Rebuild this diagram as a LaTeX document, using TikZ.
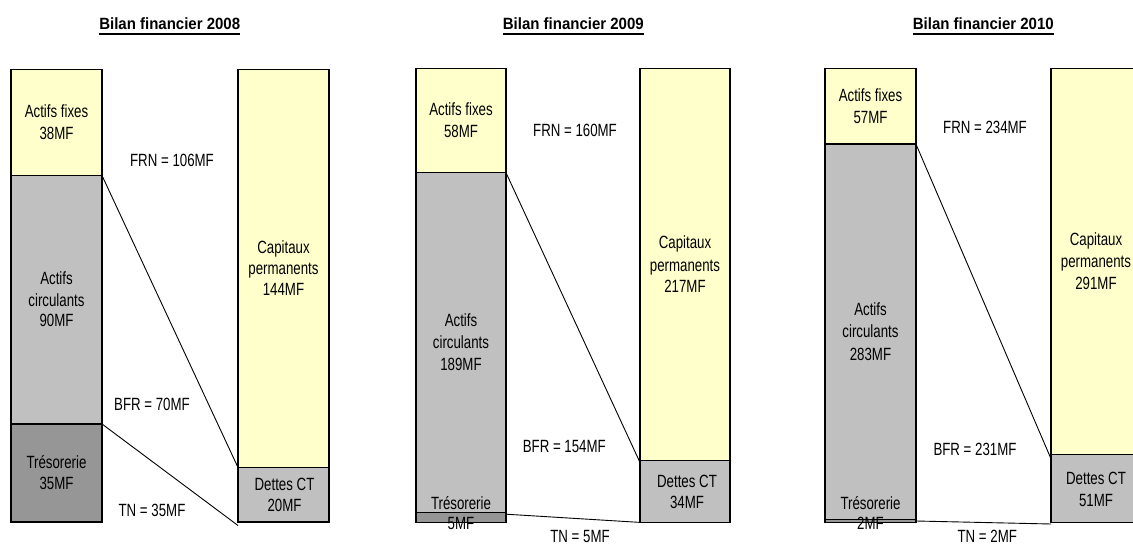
\documentclass[tikz,border=0pt]{standalone}
\usepackage{fontspec}
\setmainfont{Liberation Sans}
\newfontfamily\bodyfont[FakeStretch=0.75]{Liberation Sans}
\newfontfamily\headfont[FakeStretch=0.92]{Liberation Sans}
\usetikzlibrary{calc}
\definecolor{pale}{HTML}{FFFFCC}
\definecolor{lgrey}{HTML}{C0C0C0}
\definecolor{dgrey}{HTML}{969696}
\tikzset{
  box/.style={draw=black, line width=1.4pt, inner sep=0pt, outer sep=0pt, anchor=north west},
  txt/.style={inner sep=0pt, outer sep=0pt, anchor=base, font=\bodyfont\fontsize{17.7}{20}\selectfont},
  ttl/.style={inner sep=0pt, outer sep=0pt, anchor=base, font=\headfont\bfseries\fontsize{16.3}{18}\selectfont},
  uline/.style={line width=1.6pt},
  conn/.style={line width=0.9pt}
}
\newcommand\mytext[4]{\node[txt] (#1) at (#2,#3) {#4};}
\newcommand\mybox[6]{\node[box, fill=#2, minimum width=#5pt-#3pt, minimum height=#6pt-#4pt] (#1) at (#3,#4) {};}
\begin{document}
\begin{tikzpicture}[x=1pt,y=-1pt]
\useasboundingbox (0,0) rectangle (1133,545);
\begin{scope}
\clip (0,0) rectangle (1133,545);
% ---------------- 2008 ----------------
\node[ttl] (ti1) at (169.7,30) {Bilan financier 2008};
\draw[uline] ($(ti1.base west)+(0,4.3)$) -- ($(ti1.base east)+(0,4.3)$);
\mybox{af1}{pale}{11}{69.5}{102}{175.5}
\mybox{ac1}{lgrey}{11}{175.5}{102}{424}
\mybox{tr1}{dgrey}{11}{424}{102}{522}
\mybox{cp1}{pale}{238}{69.5}{329}{467.5}
\mybox{dc1}{lgrey}{238}{467.5}{329}{522}
\coordinate (e1) at ($(dc1.south west)+(0,3.5)$);
\draw[conn] (af1.south east) -- (cp1.south west);
\draw[conn] (tr1.north east) -- (e1);
\mytext{a1a}{56.5}{117.7}{Actifs fixes}
\mytext{a1b}{56.5}{139.3}{38MF}
\mytext{f1}{172}{167}{FRN = 106MF}
\mytext{c1a}{283.5}{254}{Capitaux}
\mytext{c1b}{283.5}{274.8}{permanents}
\mytext{c1c}{283.5}{295.5}{144MF}
\mytext{r1a}{56.5}{284.5}{Actifs}
\mytext{r1b}{56.5}{306.1}{circulants}
\mytext{r1c}{56.5}{327}{90MF}
\mytext{b1}{152}{410.7}{BFR = 70MF}
\mytext{t1a}{56.5}{468.8}{Trésorerie}
\mytext{t1b}{56.5}{489.6}{35MF}
\mytext{n1}{152}{516.8}{TN = 35MF}
\mytext{d1a}{284.5}{490.3}{Dettes CT}
\mytext{d1b}{284.5}{511.5}{20MF}
% ---------------- 2009 ----------------
\node[ttl] (ti2) at (573.3,30) {Bilan financier 2009};
\draw[uline] ($(ti2.base west)+(0,4.3)$) -- ($(ti2.base east)+(0,4.3)$);
\mybox{af2}{pale}{416}{68.8}{506}{172.7}
\mybox{ac2}{lgrey}{416}{172.7}{506}{512.7}
\mybox{tr2}{dgrey}{416}{512.7}{506}{522.4}
\mybox{cp2}{pale}{640}{68.8}{730}{460.5}
\mybox{dc2}{lgrey}{640}{460.5}{730}{522.4}
\coordinate (e2) at ($(cp2.south west)+(0,2)$);
\coordinate (s2) at ($(tr2.north east)+(0,1.5)$);
\draw[conn] (af2.south east) -- (e2);
\draw[conn] (s2) -- (dc2.south west);
\mytext{a2a}{461}{116}{Actifs fixes}
\mytext{a2b}{461}{137.5}{58MF}
\mytext{f2}{575}{136.8}{FRN = 160MF}
\mytext{c2a}{685}{248.8}{Capitaux}
\mytext{c2b}{685}{271.4}{permanents}
\mytext{c2c}{685}{292.5}{217MF}
\mytext{r2a}{461}{326.3}{Actifs}
\mytext{r2b}{461}{348.9}{circulants}
\mytext{r2c}{461}{370.4}{189MF}
\mytext{b2}{564.3}{452.5}{BFR = 154MF}
\mytext{t2a}{461}{509.2}{Trésorerie}
\mytext{t2b}{461}{529.8}{5MF}
\mytext{n2}{580}{542.8}{TN = 5MF}
\mytext{d2a}{687}{487.2}{Dettes CT}
\mytext{d2b}{687}{508.1}{34MF}
% ---------------- 2010 ----------------
\node[ttl] (ti3) at (983.3,30) {Bilan financier 2010};
\draw[uline] ($(ti3.base west)+(0,4.3)$) -- ($(ti3.base east)+(0,4.3)$);
\mybox{af3}{pale}{825}{68.8}{916}{144.2}
\mybox{ac3}{lgrey}{825}{144.2}{916}{519.5}
\mybox{tr3}{dgrey}{825}{519.5}{916}{522.5}
\mybox{cp3}{pale}{1051}{68.8}{1141}{454.3}
\mybox{dc3}{lgrey}{1051}{454.3}{1141}{522.5}
\coordinate (e3) at ($(cp3.south west)+(0,4.5)$);
\coordinate (g3) at ($(dc3.south west)+(0,1.5)$);
\draw[conn] (af3.south east) -- (e3);
\draw[conn] (tr3.east) -- (g3);
\mytext{a3a}{870.5}{101.4}{Actifs fixes}
\mytext{a3b}{870.5}{123.6}{57MF}
\mytext{f3}{985}{133.4}{FRN = 234MF}
\mytext{c3a}{1096}{245.6}{Capitaux}
\mytext{c3b}{1096}{267.9}{permanents}
\mytext{c3c}{1096}{289.8}{291MF}
\mytext{r3a}{870.5}{315.8}{Actifs}
\mytext{r3b}{870.5}{337.7}{circulants}
\mytext{r3c}{870.5}{360}{283MF}
\mytext{b3}{975}{455.9}{BFR = 231MF}
\mytext{t3a}{870.5}{509.2}{Trésorerie}
\mytext{t3b}{870.5}{529.8}{2MF}
\mytext{n3}{987.3}{542.8}{TN = 2MF}
\mytext{d3a}{1096}{484.5}{Dettes CT}
\mytext{d3b}{1096}{506}{51MF}
\end{scope}
\end{tikzpicture}
\end{document}
